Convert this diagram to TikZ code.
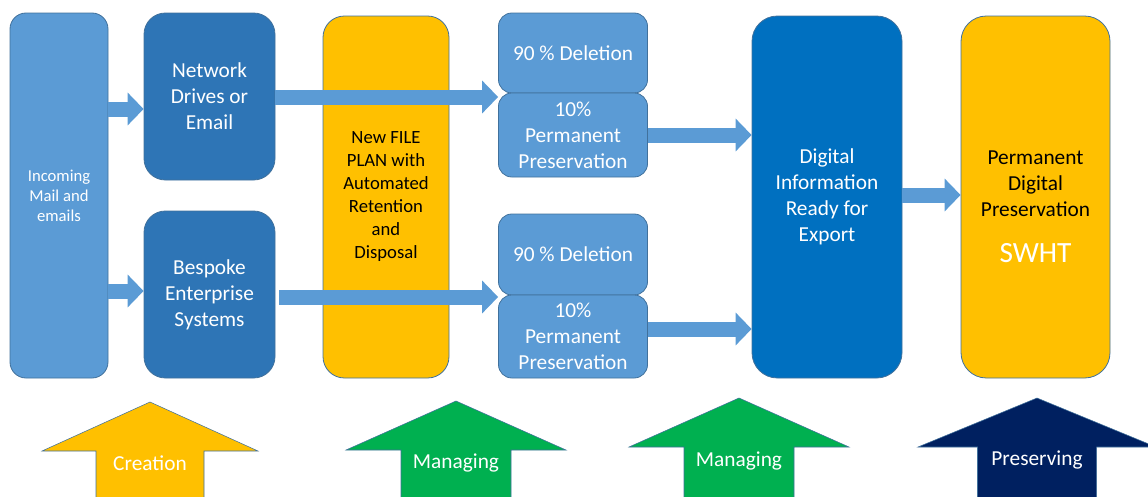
\documentclass[tikz,border=0pt]{standalone}
\usepackage{fontspec}
\setmainfont{Carlito}
\usetikzlibrary{arrows.meta}

\definecolor{lightblue}{HTML}{5B9BD5}
\definecolor{midblue}{HTML}{2E75B6}
\definecolor{darkblue}{HTML}{0070C0}
\definecolor{gold}{HTML}{FFC000}
\definecolor{leafgreen}{HTML}{00B050}
\definecolor{navy}{HTML}{002060}
\definecolor{boxedge}{HTML}{41719C}

\tikzset{
  box/.style={draw=boxedge, line width=.6pt, align=center, text=white, inner sep=2pt},
  sz/.style 2 args={minimum width=#1*.75pt, minimum height=#2*.75pt},
  big/.style={font=\fontsize{16}{19.5}\selectfont},
  fat/.style={lightblue, line width=11.25pt, -{Triangle[width=24pt,length=12pt]}},
}

\begin{document}
\begin{tikzpicture}[x=.75pt,y=-.75pt]
  \clip (0,0) rectangle (1148,496);
  \node[box, sz={98}{365}, fill=lightblue, rounded corners=12pt,
    font=\fontsize{12.5}{15}\selectfont] (incoming) at (59,195.5)
    {Incoming\\Mail and\\emails};
  \node[box, big, sz={131}{167}, fill=midblue, rounded corners=16pt]
    (network) at (209.5,96.5) {Network\\Drives or\\Email};
  \node[box, big, sz={131}{167}, fill=midblue, rounded corners=16pt]
    (bespoke) at (209.5,294.5) {Bespoke\\Enterprise\\Systems};
  \node[box, sz={126}{362}, fill=gold, text=black, rounded corners=16pt,
    font=\fontsize{14}{17.25}\selectfont] (fileplan) at (386,197)
    {New FILE\\PLAN with\\Automated\\Retention\\and\\Disposal};
  \node[box, big, sz={149}{80}, fill=lightblue, rounded corners=10pt]
    (deltop) at (573,53) {90 \% Deletion};
  \node[box, big, sz={149}{84}, fill=lightblue, rounded corners=10pt]
    (permtop) at (573,135) {10\%\\Permanent\\Preservation};
  \node[box, big, sz={149}{81}, fill=lightblue, rounded corners=10pt]
    (delbot) at (573,254.5) {90 \% Deletion};
  \node[box, big, sz={149}{83}, fill=lightblue, rounded corners=10pt]
    (permbot) at (573,336.5) {10\%\\Permanent\\Preservation};
  \node[box, big, sz={150}{362}, fill=darkblue, rounded corners=19pt]
    (export) at (827,197) {Digital\\Information\\Ready for\\Export};
  \node[box, sz={149}{362}, fill=gold, rounded corners=19pt]
    (archive) at (1035.5,197) {};
  \node[big, align=center] (archivetext) at (1035.5,183.5)
    {Permanent\\Digital\\Preservation};
  \node[text=white, font=\fontsize{22}{26}\selectfont] (swht) at (1035.5,253) {SWHT};

  \draw[fat] (incoming.east |- 0,109) -- (network.west |- 0,109);
  \draw[fat] (incoming.east |- 0,291) -- (bespoke.west |- 0,291);
  \draw[fat] (network.east |- 0,97) -- (permtop.west |- 0,97);
  \draw[fat] ([xshift=3pt]bespoke.east |- 0,297) -- (permbot.west |- 0,297);
  \draw[fat] (permtop.east |- 0,135) -- (export.west |- 0,135);
  \draw[fat] (permbot.east |- 0,329) -- (export.west |- 0,329);
  \draw[fat] (export.east |- 0,195) -- (archive.west |- 0,195);

  \foreach \x/\y/\w/\col/\ly/\lbl in {150/402/108/gold/463/Creation,
      456/401/110/leafgreen/463/Managing, 739/398/110/leafgreen/461/Managing,
      1037/398/119/navy/460/Preserving} {
    \pgfmathsetmacro{\shaft}{\w/2}
    \filldraw[fill=\col, draw=boxedge, line width=.4pt] (\x,\y)
      -- (\x+\w,\y+49) -- (\x+\shaft,\y+49) -- (\x+\shaft,500)
      -- (\x-\shaft,500) -- (\x-\shaft,\y+49) -- (\x-\w,\y+49) -- cycle;
    \node[text=white, big] (stage\x) at (\x,\ly) {\lbl};
  }
\end{tikzpicture}
\end{document}
